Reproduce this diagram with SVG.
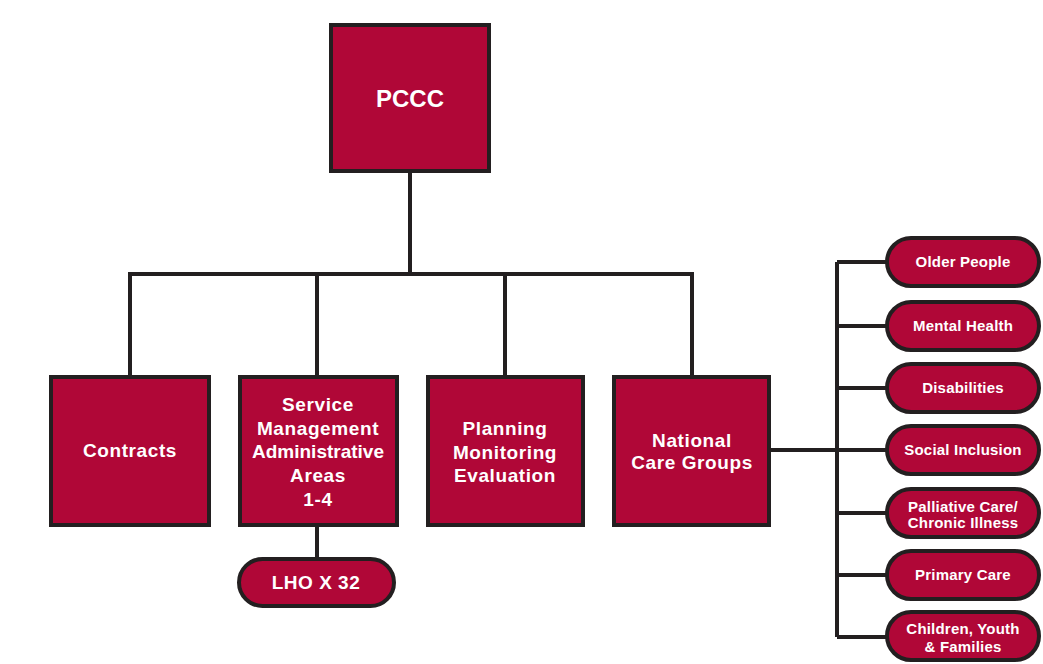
<svg xmlns="http://www.w3.org/2000/svg" width="1043" height="664" viewBox="0 0 1043 664">
<style>
.box{fill:#b00737;stroke:#231f20;stroke-width:4}
.ln{fill:none;stroke:#231f20;stroke-width:4}
.t{font-family:"Liberation Sans",Arial,sans-serif;font-weight:bold;fill:#ffffff;text-anchor:middle}
.big{font-size:19px;letter-spacing:0.6px}
.sm{font-size:15px;letter-spacing:0.2px}
</style>
<rect width="1043" height="664" fill="#ffffff"/>
<g id="connectors">
<path class="ln" d="M410,171 V274 M130,377 V274 H692 V377 M317,274 V377 M505,274 V377"/>
<path class="ln" d="M317,525 V559"/>
<path class="ln" d="M769,450 H837 M837,262 V637 M837,262 H887 M837,326 H887 M837,388 H887 M837,450 H887 M837,513 H887 M837,575 H887 M837,637 H887"/>
</g>
<g id="pccc"><rect class="box" x="331" y="25" width="158" height="146"/><text class="t" x="410" y="107" font-size="24">PCCC</text></g>
<g id="contracts"><rect class="box" x="51" y="377" width="158" height="148"/><text class="t big" x="130" y="457">Contracts</text></g>
<g id="service"><rect class="box" x="240" y="377" width="157" height="148"/>
<text class="t big" x="318" y="411">Service</text>
<text class="t big" x="318" y="435">Management</text>
<text class="t big" x="318" y="458" style="letter-spacing:0">Administrative</text>
<text class="t big" x="318" y="482">Areas</text>
<text class="t big" x="318" y="506">1-4</text></g>
<g id="planning"><rect class="box" x="428" y="377" width="155" height="148"/>
<text class="t big" x="505" y="435">Planning</text>
<text class="t big" x="505" y="459">Monitoring</text>
<text class="t big" x="505" y="482">Evaluation</text></g>
<g id="national"><rect class="box" x="614" y="377" width="155" height="148"/>
<text class="t big" x="692" y="447">National</text>
<text class="t big" x="692" y="469">Care Groups</text></g>
<g id="lho"><rect class="box" x="239" y="559" width="155" height="47" rx="23.5"/><text class="t" x="316" y="589" font-size="19" letter-spacing="0.5">LHO X 32</text></g>
<g id="older"><rect class="box" x="887" y="238" width="152" height="48" rx="24"/><text class="t sm" x="963" y="267">Older People</text></g>
<g id="mental"><rect class="box" x="887" y="302" width="152" height="48" rx="24"/><text class="t sm" x="963" y="331">Mental Health</text></g>
<g id="disabilities"><rect class="box" x="887" y="364" width="152" height="48" rx="24"/><text class="t sm" x="963" y="393">Disabilities</text></g>
<g id="social"><rect class="box" x="887" y="426" width="152" height="48" rx="24"/><text class="t sm" x="963" y="455">Social Inclusion</text></g>
<g id="palliative"><rect class="box" x="887" y="489" width="152" height="48" rx="24"/><text class="t sm" x="963" y="512">Palliative Care/</text><text class="t sm" x="963" y="528">Chronic Illness</text></g>
<g id="primary"><rect class="box" x="887" y="551" width="152" height="48" rx="24"/><text class="t sm" x="963" y="580">Primary Care</text></g>
<g id="children"><rect class="box" x="887" y="612" width="152" height="48" rx="24"/><text class="t sm" x="963" y="634">Children, Youth</text><text class="t sm" x="963" y="652">&amp; Families</text></g>
</svg>
